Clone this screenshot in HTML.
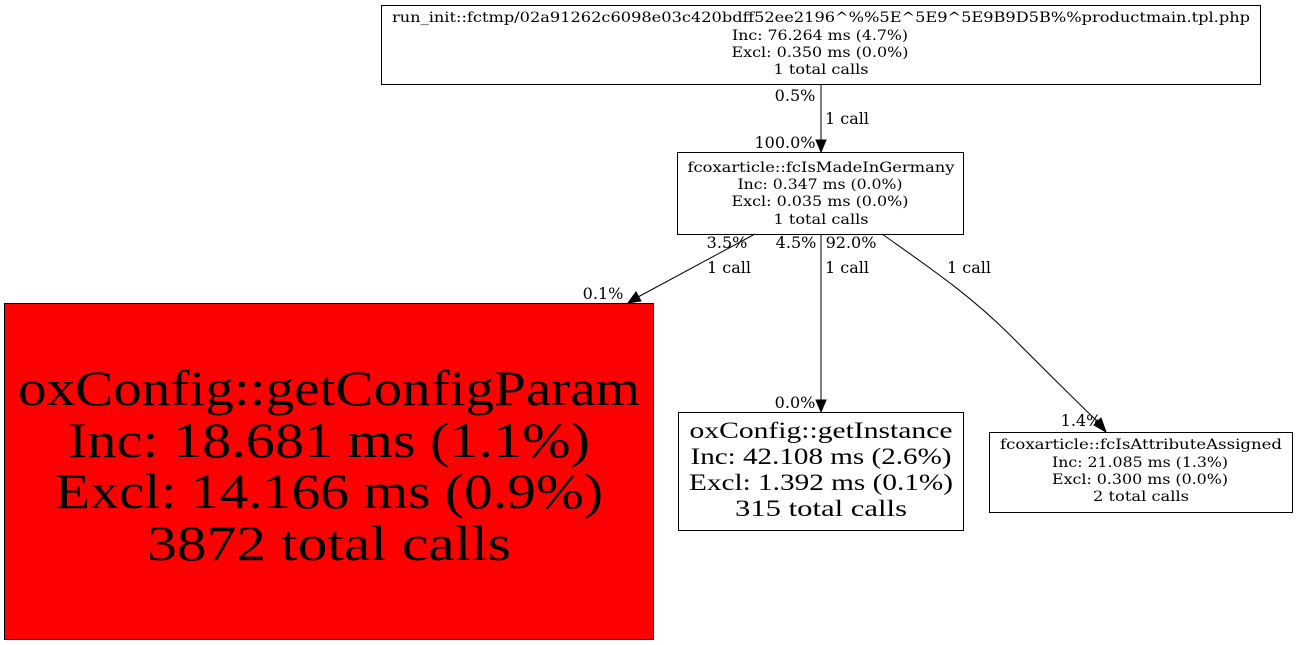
<!DOCTYPE html>
<html><head><meta charset="utf-8"><style>
html,body{margin:0;padding:0;background:#fff;}
svg{display:block;}
text{font-family:"DejaVu Serif","Liberation Serif",serif;fill:#000;}
.l{font-family:"Liberation Serif",serif;}
</style></head><body>
<svg width="1299" height="645" viewBox="0 0 1299 645" xmlns="http://www.w3.org/2000/svg">
<rect x="0" y="0" width="1299" height="645" fill="#fff"/>
<!-- top node -->
<rect x="381.5" y="5.5" width="879" height="79" fill="#fff" stroke="#000"/>
<g font-size="14" text-anchor="middle">
<text x="821" y="22" textLength="858" lengthAdjust="spacingAndGlyphs">run_init::fctmp/02a91262c6098e03c420bdff52ee2196^%%5E^5E9^5E9B9D5B%%productmain.tpl.php</text>
<text x="820" y="40" textLength="176" lengthAdjust="spacingAndGlyphs">Inc: 76.264 ms (4.7%)</text>
<text x="820" y="57" textLength="177" lengthAdjust="spacingAndGlyphs">Excl: 0.350 ms (0.0%)</text>
<text x="821" y="74" textLength="95" lengthAdjust="spacingAndGlyphs">1 total calls</text>
</g>
<!-- middle node -->
<rect x="677.5" y="152.5" width="286" height="82" fill="#fff" stroke="#000"/>
<g font-size="14" text-anchor="middle">
<text x="821" y="172" textLength="267" lengthAdjust="spacingAndGlyphs">fcoxarticle::fcIsMadeInGermany</text>
<text x="820" y="189" textLength="165" lengthAdjust="spacingAndGlyphs">Inc: 0.347 ms (0.0%)</text>
<text x="820" y="206" textLength="177" lengthAdjust="spacingAndGlyphs">Excl: 0.035 ms (0.0%)</text>
<text x="821" y="224" textLength="95" lengthAdjust="spacingAndGlyphs">1 total calls</text>
</g>
<!-- big red node -->
<rect x="4.5" y="303.5" width="649" height="336" fill="#ff0000" stroke="#000"/>
<g font-size="50" text-anchor="middle" class="l">
<text class="l" x="329" y="405" textLength="622" lengthAdjust="spacingAndGlyphs">oxConfig::getConfigParam</text>
<text class="l" x="329" y="457" textLength="522" lengthAdjust="spacingAndGlyphs">Inc: 18.681 ms (1.1%)</text>
<text class="l" x="329" y="508" textLength="548" lengthAdjust="spacingAndGlyphs">Excl: 14.166 ms (0.9%)</text>
<text class="l" x="329" y="560" textLength="364" lengthAdjust="spacingAndGlyphs">3872 total calls</text>
</g>
<!-- getInstance -->
<rect x="678.5" y="412.5" width="285" height="118" fill="#fff" stroke="#000"/>
<g font-size="23" text-anchor="middle">
<text class="l" x="821" y="438" textLength="263" lengthAdjust="spacingAndGlyphs">oxConfig::getInstance</text>
<text class="l" x="821" y="464" textLength="261" lengthAdjust="spacingAndGlyphs">Inc: 42.108 ms (2.6%)</text>
<text class="l" x="821" y="490" textLength="264" lengthAdjust="spacingAndGlyphs">Excl: 1.392 ms (0.1%)</text>
<text class="l" x="821" y="516" textLength="172" lengthAdjust="spacingAndGlyphs">315 total calls</text>
</g>
<!-- attribute assigned -->
<rect x="989.5" y="432.5" width="303" height="80" fill="#fff" stroke="#000"/>
<g font-size="14" text-anchor="middle">
<text x="1141" y="449" textLength="282" lengthAdjust="spacingAndGlyphs">fcoxarticle::fcIsAttributeAssigned</text>
<text x="1140" y="467" textLength="176" lengthAdjust="spacingAndGlyphs">Inc: 21.085 ms (1.3%)</text>
<text x="1140" y="484" textLength="176" lengthAdjust="spacingAndGlyphs">Excl: 0.300 ms (0.0%)</text>
<text x="1141" y="501" textLength="96" lengthAdjust="spacingAndGlyphs">2 total calls</text>
</g>
<!-- edges -->
<g stroke="#000" fill="none" stroke-width="1">
<line x1="821" y1="85" x2="821" y2="141"/>
<line x1="755" y1="234" x2="638" y2="297"/>
<line x1="821" y1="234" x2="821" y2="401"/>
<path d="M882,234 C930,268 970,295 1010,335 C1050,375 1080,405 1098,422"/>
</g>
<g fill="#000" stroke="#000">
<polygon points="816,140 826,140 821,152"/>
<polygon points="636,292 641,301 628,303"/>
<polygon points="816,400 826,400 821,412"/>
<polygon points="1094,425 1101,418 1106,432"/>
</g>
<g font-size="16" text-anchor="middle">
<text x="795" y="101">0.5%</text>
<text x="847" y="124">1 call</text>
<text x="785" y="148">100.0%</text>
<text x="727" y="248">3.5%</text>
<text x="796" y="248">4.5%</text>
<text x="851" y="248">92.0%</text>
<text x="729" y="273">1 call</text>
<text x="847" y="273">1 call</text>
<text x="969" y="273">1 call</text>
<text x="603" y="299">0.1%</text>
<text x="795" y="408">0.0%</text>
<text x="1081" y="426">1.4%</text>
</g>
</svg>
</body></html>
